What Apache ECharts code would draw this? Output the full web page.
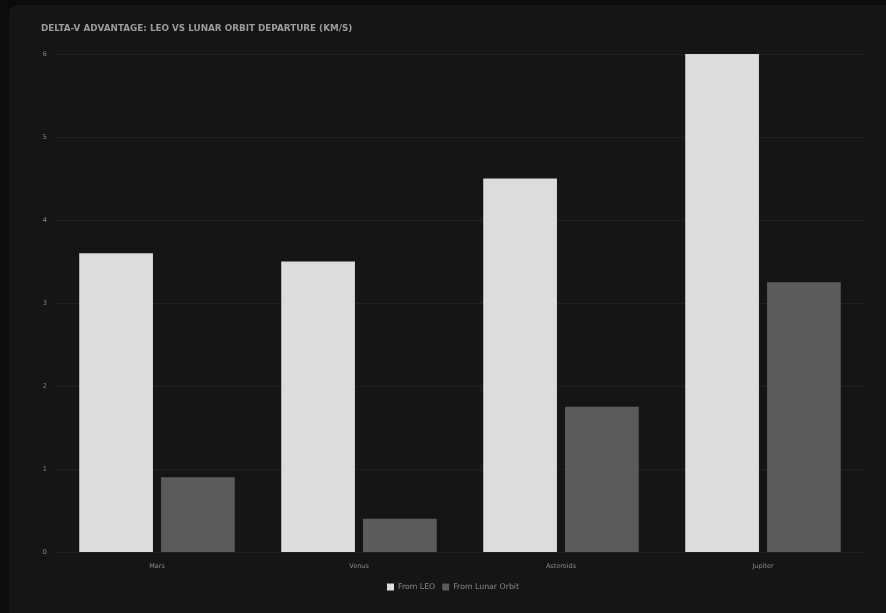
<!DOCTYPE html>
<html><head><meta charset="utf-8">
<script src="https://cdn.jsdelivr.net/npm/echarts@6/dist/echarts.min.js"></script>
<style>
html,body{margin:0;padding:0;background:#0b0b0b;width:886px;height:613px;overflow:hidden}
#bg{position:absolute;left:9px;top:5px;width:890px;height:620px;background:#151515;border-radius:8px}
#c{position:absolute;left:0;top:0;width:886px;height:613px}
</style></head><body>
<div id="bg"></div><div id="c"></div>
<script>
const titleText = 'DELTA-V ADVANTAGE: LEO VS LUNAR ORBIT DEPARTURE (KM/S)';
const categories = ['Mars', 'Venus', 'Asteroids', 'Jupiter'];
const seriesNames = ['From LEO', 'From Lunar Orbit'];
const fromLEO = [3.6, 3.5, 4.5, 6.0];
const fromLunar = [0.9, 0.4, 1.75, 3.25];

const chart = echarts.init(document.getElementById('c'), null, {renderer:'canvas'});
chart.setOption({
  backgroundColor: 'transparent',
  animation: false,
  title: {
    text: titleText, left: 36, top: 19,
    textStyle: {color:'#9c9c9c', fontSize:8.8, fontWeight:'bold', fontFamily:'DejaVu Sans'}
  },
  legend: {
    data: seriesNames, bottom: 17, left: 382,
    itemWidth: 7, itemHeight: 7, itemGap: 7,
    icon: 'rect',
    textStyle: {color:'#8a8a8a', fontSize:7.8, fontFamily:'DejaVu Sans', padding:[0,0,0,-1]}
  },
  grid: {left: 56, right: 22, top: 54, bottom: 61, containLabel: false},
  xAxis: {
    type: 'category', data: categories,
    axisLine: {show:false}, axisTick: {show:false},
    axisLabel: {color:'#8a8a8a', fontSize:6.5, margin:11, fontFamily:'DejaVu Sans'}
  },
  yAxis: {
    type: 'value', min: 0, max: 6, interval: 1,
    axisLine: {show:false}, axisTick: {show:false},
    axisLabel: {color:'#8a8a8a', fontSize:6.5, margin:9, fontFamily:'DejaVu Sans'},
    splitLine: {lineStyle: {color:'#202020', width:1}}
  },
  series: [
    {name: seriesNames[0], type:'bar', data: fromLEO, barGap:'11%', barCategoryGap:'23%',
     itemStyle:{color:'#dcdcdc'}},
    {name: seriesNames[1], type:'bar', data: fromLunar,
     itemStyle:{color:'#5b5b5b'}}
  ]
});
</script></body></html>
